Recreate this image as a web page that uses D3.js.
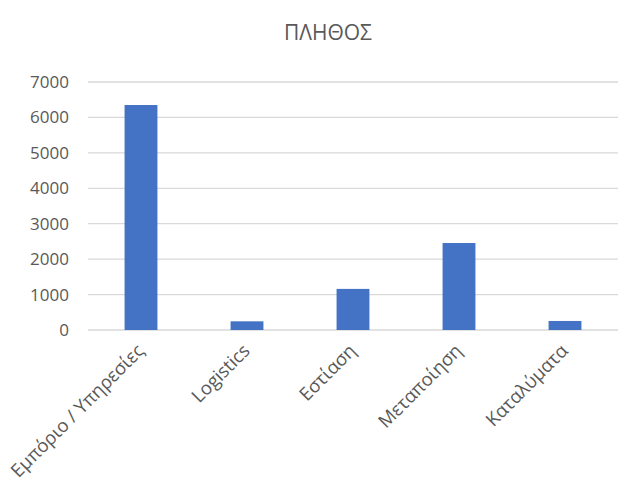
<!DOCTYPE html>
<html>
<head>
<meta charset="utf-8">
<script src="https://cdn.jsdelivr.net/npm/d3@7"></script>
<style>
  body { margin: 0; background: #fff; }
  text { font-family: "Open Sans", sans-serif; fill: #595959; }
</style>
</head>
<body>
<div class="canvas"></div>
<script>
const categories = ["Εμπόριο / Υπηρεσίες", "Logistics", "Εστίαση", "Μεταποίηση", "Καταλύματα"]
const values = [6350, 245, 1160, 2455, 255]
const yTicks = [0, 1000, 2000, 3000, 4000, 5000, 6000, 7000]
const title = "ΠΛΗΘΟΣ"

const width = 619
const height = 484

const svg = d3.select(".canvas")
    .append("svg")
    .attr("width", width)
    .attr("height", height)

const margin = { top: 82, right: 0, bottom: 154, left: 88 }
const graphWidth = width - margin.left - margin.right - 1
const graphHeight = height - margin.top - margin.bottom

svg.append("text")
    .attr("x", 328)
    .attr("y", 40)
    .attr("text-anchor", "middle")
    .attr("font-size", 21)
    .text(title)

const graph = svg.append("g")
    .attr("transform", `translate(${margin.left}, ${margin.top})`)

const scaleY = d3.scaleLinear()
    .domain([0, 7000])
    .range([graphHeight, 0])

const scaleX = d3.scaleBand()
    .domain(categories)
    .range([0, graphWidth])
    .paddingInner(0.69)
    .paddingOuter(0.345)

// gridlines
graph.selectAll("line.grid")
    .data(yTicks)
    .enter()
    .append("line")
    .attr("class", "grid")
    .attr("x1", 0)
    .attr("x2", graphWidth)
    .attr("y1", d => scaleY(d))
    .attr("y2", d => scaleY(d))
    .attr("stroke", "#d9d9d9")
    .attr("stroke-width", 1.3)

graph.selectAll("rect")
    .data(values)
    .enter()
    .append("rect")
    .attr("x", (d, i) => scaleX(categories[i]))
    .attr("y", d => scaleY(d))
    .attr("width", scaleX.bandwidth())
    .attr("height", d => graphHeight - scaleY(d))
    .attr("fill", "#4472c4")

const yAxis = d3.axisLeft(scaleY)
    .tickValues(yTicks)
    .tickFormat(d3.format("d"))
    .tickSize(0)
    .tickPadding(19)

const yAxisGroup = graph.append("g").call(yAxis)
yAxisGroup.select(".domain").remove()
yAxisGroup.selectAll("text")
    .attr("font-size", 17)
    .attr("font-family", "Open Sans, sans-serif")
    .attr("fill", "#595959")

const xAxis = d3.axisBottom(scaleX).tickSize(0)
const xAxisGroup = graph.append("g")
    .attr("transform", `translate(0, ${graphHeight})`)
    .call(xAxis)
xAxisGroup.select(".domain").remove()
xAxisGroup.selectAll("text")
    .attr("font-size", 18.5)
    .attr("font-family", "Open Sans, sans-serif")
    .attr("fill", "#595959")
    .attr("text-anchor", "end")
    .attr("dy", 0)
    .attr("y", 0)
    .attr("transform", "translate(4, 22) rotate(-45)")
</script>
</body>
</html>
